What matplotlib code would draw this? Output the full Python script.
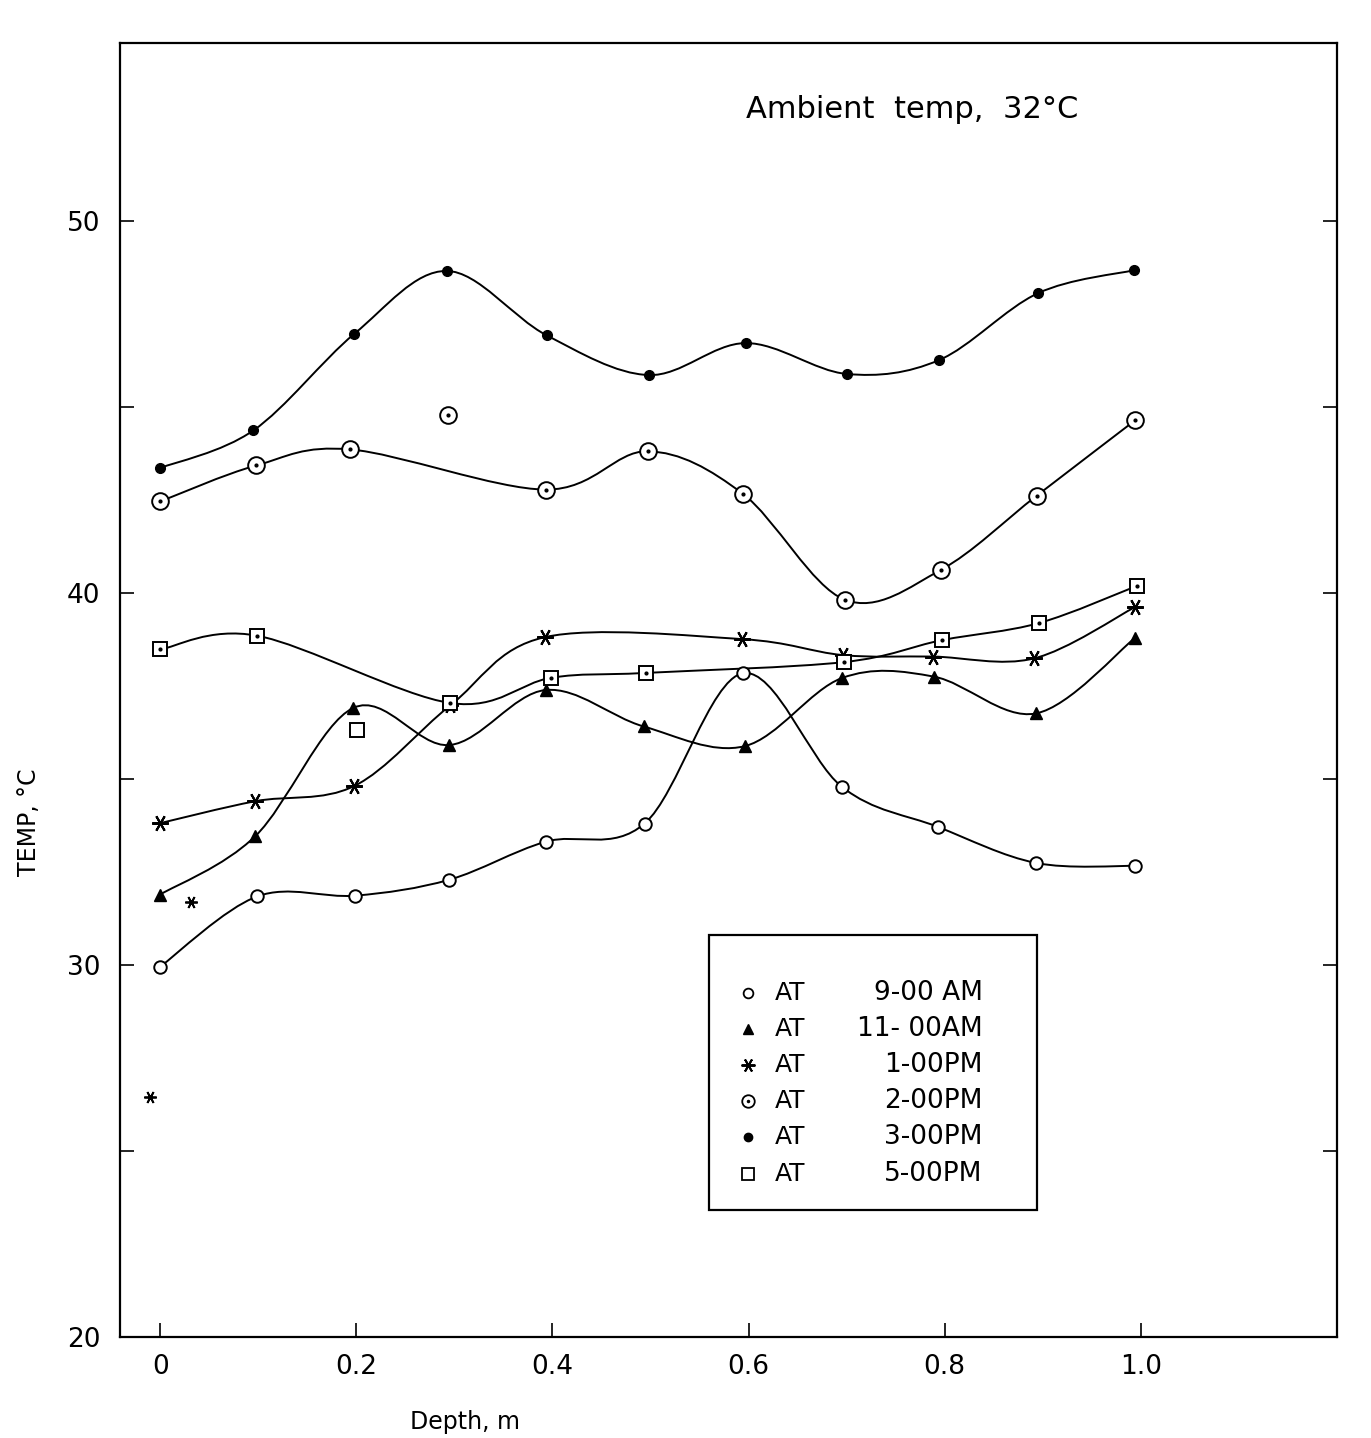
import numpy as np
import matplotlib.pyplot as plt
from matplotlib.path import Path
from matplotlib.patches import PathPatch, Rectangle

# depth (m) and temperature (deg C)

depth_9am = [0.0, 0.099, 0.199, 0.295, 0.393, 0.494, 0.594, 0.695, 0.793, 0.893, 0.994]
temp_9am = [29.96, 31.85, 31.87, 32.30, 33.32, 33.81, 37.85, 34.80, 33.72, 32.75, 32.67]

depth_11am = [0.0, 0.097, 0.197, 0.295, 0.393, 0.493, 0.596, 0.695, 0.789, 0.893, 0.994]
temp_11am = [31.90, 33.47, 36.92, 35.92, 37.40, 36.42, 35.89, 37.72, 37.76, 36.77, 38.80]

depth_1pm = [0.0, 0.097, 0.198, 0.296, 0.392, 0.593, 0.696, 0.788, 0.891, 0.994]
temp_1pm = [33.82, 34.41, 34.82, 36.99, 38.82, 38.77, 38.34, 38.30, 38.25, 39.63]

depth_2pm = [0.0, 0.098, 0.194, 0.393, 0.497, 0.594, 0.698, 0.796, 0.894, 0.994]
temp_2pm = [42.47, 43.44, 43.87, 42.79, 43.82, 42.68, 39.83, 40.63, 42.63, 44.65]

depth_3pm = [0.0, 0.095, 0.198, 0.292, 0.394, 0.498, 0.597, 0.700, 0.794, 0.895, 0.993]
temp_3pm = [43.37, 44.38, 46.98, 48.67, 46.94, 45.87, 46.73, 45.90, 46.27, 48.07, 48.69]

depth_5pm = [0.0, 0.099, 0.296, 0.399, 0.495, 0.697, 0.797, 0.896, 0.996]
temp_5pm = [38.49, 38.86, 37.05, 37.73, 37.86, 38.15, 38.74, 39.20, 40.20]

# stray points not on the curves
stray_2pm = ([0.294], [44.79])
stray_5pm = ([0.201], [36.33])
stray_star = ([0.031, -0.010], [31.70, 26.45])

times = ['9-00 AM', '11- 00AM', '1-00PM', '2-00PM', '3-00PM', '5-00PM']

star = (6, 2, 90)


def smooth(x, y):
    # catmull-rom curve through the points, drawn as bezier segments
    p = np.column_stack([x, y])
    p = np.vstack([p[0], p, p[-1]])
    verts = [p[1]]
    codes = [Path.MOVETO]
    for i in range(1, len(p) - 2):
        c1 = p[i] + (p[i + 1] - p[i - 1]) / 6
        c2 = p[i + 1] - (p[i + 2] - p[i]) / 6
        verts += [c1, c2, p[i + 1]]
        codes += [Path.CURVE4] * 3
    return Path(verts, codes)


fig = plt.figure(figsize=(13.71, 14.38), dpi=100)
ax = fig.add_axes([0.0875, 0.0702, 0.8877, 0.8999])

series = [
    (depth_9am, temp_9am, dict(marker='o', ms=9, mfc='white', mec='black', mew=1.4)),
    (depth_11am, temp_11am, dict(marker='^', ms=8, mfc='black', mec='black')),
    (depth_1pm, temp_1pm, dict(marker=star, ms=12, mec='black', mew=1.5)),
    (depth_2pm, temp_2pm, dict(marker='o', ms=12, mfc='white', mec='black', mew=1.4)),
    (depth_3pm, temp_3pm, dict(marker='o', ms=7, mfc='black', mec='black')),
    (depth_5pm, temp_5pm, dict(marker='s', ms=10, mfc='white', mec='black', mew=1.4)),
]

for x, y, style in series:
    ax.add_patch(PathPatch(smooth(x, y), fill=False, lw=1.4, ec='black', zorder=2))
    ax.plot(x, y, ls='none', zorder=3, **style)

# centre dots of the 2 PM and 5 PM symbols
ax.plot(depth_2pm, temp_2pm, ls='none', marker='o', ms=2, color='black', zorder=4)
ax.plot(depth_5pm, temp_5pm, ls='none', marker='o', ms=2, color='black', zorder=4)

ax.plot(*stray_2pm, ls='none', marker='o', ms=12, mfc='white', mec='black', mew=1.4, zorder=3)
ax.plot(*stray_2pm, ls='none', marker='o', ms=2, color='black', zorder=4)
ax.plot(*stray_5pm, ls='none', marker='s', ms=10, mfc='white', mec='black', mew=1.4, zorder=3)
ax.plot(*stray_star, ls='none', marker=star, ms=9, mec='black', mew=1.3, zorder=3)

ax.set_xlim(-0.041, 1.2)
ax.set_ylim(20, 54.8)
ax.set_xticks([0, 0.2, 0.4, 0.6, 0.8, 1.0])
ax.set_xticklabels(['0', '0.2', '0.4', '0.6', '0.8', '1.0'])
ax.set_yticks([20, 30, 40, 50])
ax.set_yticks([25, 35, 45], minor=True)
ax.tick_params(which='both', direction='in', length=10, width=1.2,
               top=False, right=True, labelsize=19)
ax.tick_params(axis='x', pad=12)
ax.tick_params(axis='y', pad=14)
for s in ax.spines.values():
    s.set_linewidth(1.6)

ax.text(0.597, 53.0, 'Ambient  temp,  32°C', fontsize=22, ha='left', va='center')

# legend box
x0, y0, w, h = 0.484, 0.098, 0.2695, 0.2127
ax.add_patch(Rectangle((x0, y0), w, h, transform=ax.transAxes, fill=False,
                       lw=1.6, ec='black', zorder=5))
rows = [0.2659, 0.2380, 0.2102, 0.1824, 0.1546, 0.1260]
legend_marks = [
    dict(marker='o', ms=7, mfc='white', mec='black', mew=1.3),
    dict(marker='^', ms=7, mfc='black', mec='black'),
    dict(marker=star, ms=10, mec='black', mew=1.4),
    dict(marker='o', ms=9, mfc='white', mec='black', mew=1.3),
    dict(marker='o', ms=6, mfc='black', mec='black'),
    dict(marker='s', ms=8, mfc='white', mec='black', mew=1.3),
]
for yr, t, m in zip(rows, times, legend_marks):
    ax.plot([x0 + 0.032], [yr], ls='none', transform=ax.transAxes, zorder=6, **m)
    ax.text(x0 + 0.054, yr, 'AT', fontsize=18, va='center', ha='left',
            transform=ax.transAxes)
    ax.text(x0 + 0.225, yr, t, fontsize=19, va='center', ha='right',
            transform=ax.transAxes)
ax.plot([x0 + 0.032], [rows[3]], ls='none', marker='o', ms=1.5, color='black',
        transform=ax.transAxes, zorder=7)

fig.text(29 / 1371, 1 - 822 / 1438, 'TEMP, °C', rotation=90, fontsize=17,
         ha='center', va='center')
fig.text(465 / 1371, 1 - 1422 / 1438, 'Depth, m', fontsize=17,
         ha='center', va='center')

fig.savefig('out.png', dpi=100)
